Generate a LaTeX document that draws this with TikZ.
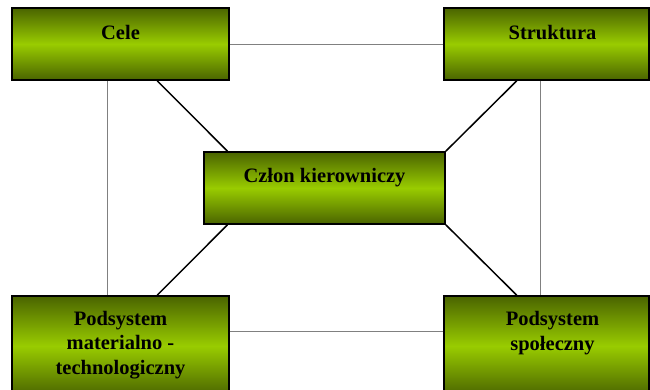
\documentclass[tikz,border=0pt]{standalone}
\usepackage{fontspec}
\setmainfont{Liberation Serif}
\usetikzlibrary{calc}
\definecolor{olivedark}{HTML}{4A6400}
\definecolor{olivebright}{HTML}{99CC00}
\definecolor{linkgray}{HTML}{808080}
\begin{document}
\begin{tikzpicture}[x=1pt,y=-1pt,
  block/.style={draw=black, line width=1.6pt, inner sep=0pt,
    top color=olivedark, bottom color=olivedark, middle color=olivebright},
  lbl/.style={font=\fontsize{20.5}{24.5}\selectfont\bfseries, align=center, inner sep=0pt, anchor=base},
  thinlink/.style={draw=linkgray, line width=0.9pt},
  thicklink/.style={draw=black, line width=1.5pt}]
\clip (0,0) rectangle (650,390);
\fill[white] (0,0) rectangle (650,390);

% the five blocks
\node[block, minimum width=217pt, minimum height=72pt] (cele) at (120.5,44) {};
\node[block, minimum width=205pt, minimum height=72pt] (struk) at (546.5,44) {};
\node[block, minimum width=241pt, minimum height=72pt] (czlon) at (324.5,188) {};
\node[block, minimum width=217pt, minimum height=100pt] (mat) at (120.5,346) {};
\node[block, minimum width=205pt, minimum height=100pt] (spol) at (546.5,346) {};

% labels (the base anchor of a multi-line label is its last line)
\node[lbl] (tcele) at ([yshift=-32pt]cele.north) {Cele};
\node[lbl] (tstruk) at ([xshift=6pt,yshift=-32pt]struk.north) {Struktura};
\node[lbl] (tczlon) at ([yshift=-31.5pt]czlon.north) {Człon kierowniczy};
\node[lbl] (tmat) at ([yshift=-79pt]mat.north) {Podsystem\\materialno -\\technologiczny};
\node[lbl] (tspol) at ([xshift=6pt,yshift=-55pt]spol.north) {Podsystem\\społeczny};

% thin grey links around the frame
\draw[thinlink] (cele.east) -- (struk.west);
\draw[thinlink] ($(cele.south west)!0.442!(cele.south east)$) coordinate (cv) -- (cv |- mat.north);
\draw[thinlink] ($(struk.south west)!0.473!(struk.south east)$) coordinate (sv) -- (sv |- spol.north);
\draw[thinlink] ($(mat.north east)!0.36!(mat.south east)$) -- ($(spol.north west)!0.36!(spol.south west)$);

% black links to the central block
\draw[thicklink] ($(cele.south west)!0.668!(cele.south east)$) -- ($(czlon.north west)!0.1!(czlon.north east)$);
\draw[thicklink] ($(struk.south west)!0.356!(struk.south east)$) -- (czlon.north east);
\draw[thicklink] ($(czlon.south west)!0.1!(czlon.south east)$) -- ($(mat.north west)!0.668!(mat.north east)$);
\draw[thicklink] (czlon.south east) -- ($(spol.north west)!0.356!(spol.north east)$);
\end{tikzpicture}
\end{document}
